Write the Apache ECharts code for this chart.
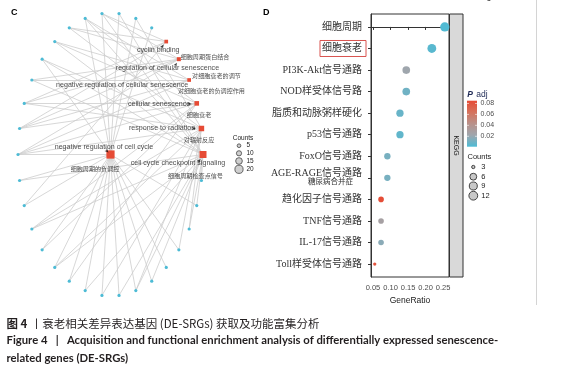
<!DOCTYPE html>
<html><head><meta charset="utf-8">
<script src="https://cdn.jsdelivr.net/npm/echarts@6/dist/echarts.min.js"></script>
<style>html,body{margin:0;padding:0;background:#fff}#c{width:565px;height:370px}</style>
</head><body><div id="c"></div>
<script>
// ---------- Panel C : gene-concept network ----------
const termNames = ['cyclin binding','regulation of cellular senescence','negative regulation of cellular senescence','cellular senescence','response to radiation','cell cycle checkpoint signaling','negative regulation of cell cycle'];
const termNamesZh = ['细胞周期蛋白结合','对细胞衰老的调节','对细胞衰老的负调控作用','细胞衰老','对辐射反应','细胞周期检查点信号','细胞周期的负调控'];
const geneIds = ['g01','g02','g03','g04','g05','g06','g07','g08','g09','g10','g11','g12','g13','g14','g15','g16','g17','g18','g19','g20','g21','g22','g23','g24','g25','g26','g27','g28'];
const termGenes = [
  ['g18','g21','g22','g26','g28'],
  ['g20','g21','g22','g23','g26','g28'],
  ['g20','g21','g23','g25','g27'],
  ['g14','g16','g17','g20','g21','g22','g25','g27'],
  ['g02','g06','g07','g10','g12','g15','g17','g20','g22','g24','g26'],
  ['g01','g04','g05','g06','g09','g10','g11','g13','g15','g17','g19','g23','g24','g25','g27','g28'],
  ['g01','g02','g03','g05','g07','g08','g09','g10','g11','g12','g13','g14','g15','g16','g18','g19','g20','g24','g27','g28']
];
const countTicksC = [5,10,15,20];

// ---------- Panel D : KEGG dot plot ----------
const pathways = ['细胞周期','细胞衰老','PI3K-Akt信号通路','NOD样受体信号路','脂质和动脉粥样硬化','p53信号通路','FoxO信号通路','AGE-RAGE信号通路\n糖尿病合并症','趋化因子信号通路','TNF信号通路','IL-17信号通路','Toll样受体信号通路'];
const geneRatio = [0.255,0.218,0.145,0.145,0.127,0.127,0.091,0.091,0.073,0.073,0.073,0.055];
const pathwayCounts = [14,12,8,8,7,7,5,5,4,4,4,3];
const pAdj = [0.002,0.004,0.022,0.010,0.008,0.006,0.012,0.012,0.084,0.028,0.017,0.080];
const xTicks = [0.05,0.10,0.15,0.20,0.25];
const padjTicks = [0.02,0.04,0.06,0.08];
const countTicksD = [3,6,9,12];
const facetLabel = 'KEGG';
const highlighted = '细胞衰老';

// ---------- styles / layout ----------
const padjMin = 0.001, padjMax = 0.085;
const padjColors = ['#4DBBD5','#9FA6AD','#B9918A','#D5725C','#E64B35'];
const termSize = c => 2.2 + 0.3 * c;
const dotSize = c => 3.3 + 6 * Math.pow((c - 3) / 11, 0.4);
const hub = termNames[6];
const ringOrder = [...geneIds.slice(0,3), ...termNames.slice(0,6), ...geneIds.slice(3)];
function ringPos(name){
  const k = ringOrder.indexOf(name), N = ringOrder.length;
  const th = (k + 0.5) * 2 * Math.PI / N;
  return [Math.sin(th), Math.cos(th)];
}
const enOffsets = [[-8,8.4],[-11.4,8.8],[-67,5],[-37.7,0.6],[-39.4,-0.5],[-25,8.5],[-6.5,-7.5]];
const zhOffsets = [[38.8,15.4],[37.6,16.8],[22.3,11],[2.3,11.6],[-2.4,11.5],[-7.5,21.5],[-15.5,14.5]];
const arrowSpec = [[[-2.5,3],-35],[[-2,3.5],-30],null,[[-5,0.5],-90],[[-5.5,0],-90],[[-2.5,4.5],-40],[[-2,-2],-135]];

const termPos = t => t === hub ? [0,0] : ringPos(t);
const nodes = [];
geneIds.forEach(g => nodes.push({name:g, value:ringPos(g), symbol:'circle', symbolSize:3.2, itemStyle:{color:'#4DBBD5'}}));
termNames.forEach((t,i) => nodes.push({name:t, value:termPos(t), symbol:'rect', symbolSize:termSize(termGenes[i].length), itemStyle:{color:'#E64B35'}}));
const links = [];
termNames.forEach((t,i) => termGenes[i].forEach(g => links.push({source:g, target:t})));

const SANS = '"Liberation Sans", Arial, "Noto Sans CJK SC", sans-serif';
const CJK = '"Noto Sans CJK SC", sans-serif';
const SERIF = '"Liberation Serif", "Noto Sans CJK SC", serif';

const chart = echarts.init(document.getElementById('c'));

// colour bar geometry
const cb = {x:467, y:100.7, w:10, h:46};
const cbY = v => cb.y + (padjMax - v) / (padjMax - padjMin) * cb.h;
const gradStops = padjColors.slice().reverse().map((c,i,a) => ({offset:i/(a.length-1), color:c}));

const graphics = [];
graphics.push({type:'text', left:11, top:8, style:{text:'C', font:'bold 9px "Liberation Sans", Arial', fill:'#000'}});
graphics.push({type:'text', left:263, top:8, style:{text:'D', font:'bold 9px "Liberation Sans", Arial', fill:'#000'}});
graphics.push({type:'text', x:486, y:-7, style:{text:'6', font:'10px "Liberation Sans"', fill:'#333'}});
graphics.push({type:'line', shape:{x1:536.5,y1:0,x2:536.5,y2:305}, style:{stroke:'#d4d4d4', lineWidth:1}});
// network legend
graphics.push({type:'text', x:243, y:138, style:{text:'Counts', font:'6.5px ' + SANS, fill:'#222', align:'center', verticalAlign:'middle'}});
const legCY = [145.7,153.3,161,169.3];
countTicksC.forEach((c,i) => {
  graphics.push({type:'circle', shape:{cx:239, cy:legCY[i], r:termSize(c)/2}, style:{fill:'#cfcfcf', stroke:'#444', lineWidth:0.8}});
  graphics.push({type:'text', x:246.5, y:legCY[i], style:{text:String(c), font:'6.5px ' + SANS, fill:'#222', verticalAlign:'middle'}});
});
// facet strip
graphics.push({type:'rect', shape:{x:449.5, y:14, width:13.5, height:263}, style:{fill:'#D9D9D9', stroke:'#333', lineWidth:1}});
graphics.push({type:'text', x:456.2, y:145.5, rotation:-Math.PI/2, style:{text:facetLabel, font:'7px ' + SANS, fill:'#1a1a1a', align:'center', verticalAlign:'middle'}});
// colour bar legend
graphics.push({type:'text', x:467.3, y:95, style:{text:'{i|P} {n|adj}', align:'left', verticalAlign:'middle', rich:{i:{font:'italic bold 8.5px ' + SANS, fill:'#1f2a55'}, n:{font:'8.5px ' + SANS, fill:'#1f2a55'}}}});
graphics.push({type:'rect', shape:{x:cb.x, y:cb.y, width:cb.w, height:cb.h}, style:{fill:new echarts.graphic.LinearGradient(0,0,0,1,gradStops)}});
padjTicks.forEach(v => {
  const y = cbY(v);
  graphics.push({type:'line', shape:{x1:cb.x, y1:y, x2:cb.x+2, y2:y}, style:{stroke:'#fff', lineWidth:0.6}});
  graphics.push({type:'line', shape:{x1:cb.x+cb.w-2, y1:y, x2:cb.x+cb.w, y2:y}, style:{stroke:'#fff', lineWidth:0.6}});
  graphics.push({type:'text', x:480.5, y:y, style:{text:v.toFixed(2), font:'7px ' + SANS, fill:'#4d4d4d', verticalAlign:'middle'}});
});
// size legend D
graphics.push({type:'text', x:467.5, y:156.7, style:{text:'Counts', font:'7.5px ' + SANS, fill:'#222', verticalAlign:'middle'}});
const legDY = [167,176.7,186,195.7];
countTicksD.forEach((c,i) => {
  graphics.push({type:'circle', shape:{cx:473.3, cy:legDY[i], r:dotSize(c)/2}, style:{fill:'#c8c8c8', stroke:'#333', lineWidth:0.9}});
  graphics.push({type:'text', x:481.3, y:legDY[i], style:{text:String(c), font:'7.5px ' + SANS, fill:'#222', verticalAlign:'middle'}});
});
// caption
graphics.push({type:'text', x:6.5, y:323.5, style:{text:'{b|图 4} {s|丨}{t|衰老相关差异表达基因 (DE-SRGs) 获取及功能富集分析}', verticalAlign:'middle',
  rich:{b:{font:'bold 11.5px ' + CJK, fill:'#231f20'}, s:{font:'11.5px ' + CJK, fill:'#231f20'}, t:{font:'11.5px ' + CJK, fill:'#231f20'}}}});
graphics.push({type:'text', x:6.5, y:340, style:{text:'Figure 4   |   Acquisition and functional enrichment analysis of differentially expressed senescence-', font:'bold 11.3px Lato, "Open Sans", sans-serif', fill:'#231f20', verticalAlign:'middle'}});
graphics.push({type:'text', x:6.5, y:358, style:{text:'related genes (DE-SRGs)', font:'bold 11.3px Lato, "Open Sans", sans-serif', fill:'#231f20', verticalAlign:'middle'}});

const option = {
  animation:false,
  backgroundColor:'#fff',
  grid:[
    {left:18, top:13, width:185, height:283, show:false},
    {left:371, top:14, width:78, height:263, show:true, borderColor:'#333', borderWidth:1, backgroundColor:'#fff'}
  ],
  xAxis:[
    {gridIndex:0, type:'value', min:-1, max:1, show:false},
    {gridIndex:1, type:'value', min:0.0443, max:0.267, splitLine:{show:false},
     axisLine:{show:true, lineStyle:{color:'#333'}},
     axisTick:{show:true, customValues:xTicks, length:3, lineStyle:{color:'#333'}},
     axisLabel:{customValues:xTicks, formatter:v => v.toFixed(2), fontSize:7.5, color:'#4d4d4d', margin:7, fontFamily:SANS},
     name:'GeneRatio', nameLocation:'middle', nameGap:19, nameTextStyle:{fontSize:8.5, color:'#1a1a1a', fontFamily:SANS}}
  ],
  yAxis:[
    {gridIndex:0, type:'value', min:-1, max:1, show:false},
    {gridIndex:1, type:'value', min:-0.6, max:pathways.length - 0.4, inverse:true, splitLine:{show:false},
     axisLine:{show:true, lineStyle:{color:'#333'}},
     axisTick:{show:true, customValues:pathways.map((p,i)=>i), length:3, lineStyle:{color:'#333'}},
     axisLabel:{customValues:pathways.map((p,i)=>i), margin:5, color:'#333',
       formatter:v => {
         const p = pathways[v];
         if (p === highlighted) return '{box|' + p + '}';
         if (p.indexOf('\n') >= 0) { const parts = p.split('\n'); return '{m|' + parts[0] + '}\n{m2|' + parts[1] + '}'; }
         return '{n|' + p + '}';
       },
       rich:{
         n:{fontSize:10, fontFamily:SERIF, color:'#333', padding:[0,4,0,0]},
         m:{fontSize:10, fontFamily:SERIF, color:'#333', padding:[0,4,0,0], lineHeight:9},
         m2:{fontSize:7.5, fontFamily:SERIF, color:'#333', padding:[0,13,0,0], lineHeight:9},
         box:{fontSize:10, fontFamily:SERIF, color:'#333', borderColor:'#D9534F', borderWidth:1, padding:[3,4,3,2]}
       }}}
  ],
  visualMap:{type:'continuous', show:false, seriesIndex:4, dimension:3, min:padjMin, max:padjMax, inRange:{color:padjColors}},
  series:[
    {type:'graph', coordinateSystem:'cartesian2d', xAxisIndex:0, yAxisIndex:0, data:nodes, links:links,
     lineStyle:{color:'#cdcdcd', width:0.8, opacity:1}, label:{show:false}, emphasis:{disabled:true}, silent:true, z:2},
    {type:'scatter', xAxisIndex:0, yAxisIndex:0, symbolSize:1, itemStyle:{color:'transparent'}, silent:true, z:5,
     data:termNames.map((t,i)=>({value:termPos(t), label:{show:true, position:'inside', offset:enOffsets[i], formatter:t, fontSize:7.1, fontFamily:SANS, color:'#1a1a1a'}}))},
    {type:'scatter', xAxisIndex:0, yAxisIndex:0, symbolSize:1, itemStyle:{color:'transparent'}, silent:true, z:5,
     data:termNames.map((t,i)=>({value:termPos(t), label:{show:true, position:'inside', offset:zhOffsets[i], formatter:termNamesZh[i], fontSize:6.1, fontFamily:CJK, color:'#1a1a1a'}}))},
    {type:'scatter', xAxisIndex:0, yAxisIndex:0, symbol:'arrow', symbolSize:[2.6,4], silent:true, z:6, itemStyle:{color:'#111'},
     data:termNames.map((t,i)=>arrowSpec[i] ? {value:termPos(t), symbolOffset:arrowSpec[i][0], symbolRotate:arrowSpec[i][1]} : null).filter(d=>d)},
    {type:'scatter', xAxisIndex:1, yAxisIndex:1, silent:true, z:3,
     data:pathways.map((p,i)=>[geneRatio[i], i, pathwayCounts[i], pAdj[i]]),
     symbolSize:d => dotSize(d[2]), itemStyle:{opacity:1}}
  ],
  graphic:graphics
};
chart.setOption(option);
</script></body></html>
